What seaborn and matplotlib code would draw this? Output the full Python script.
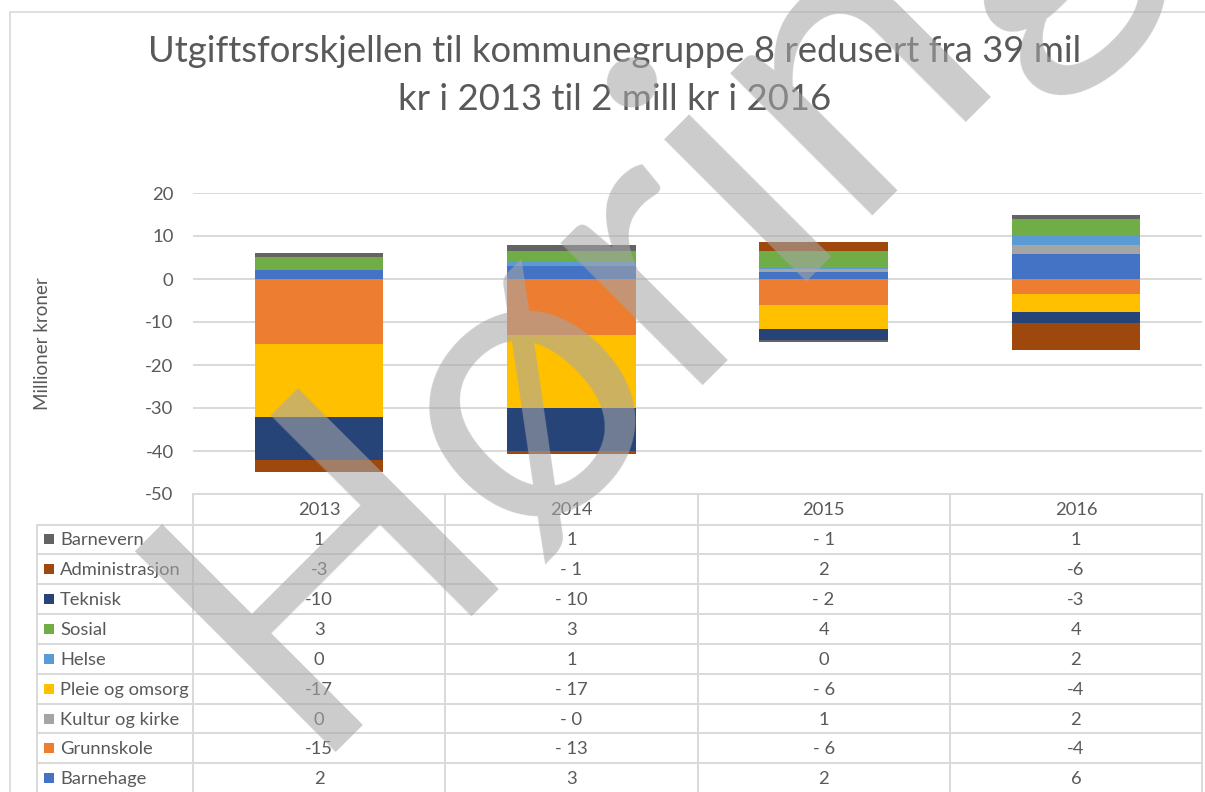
import numpy as np
import pandas as pd
import matplotlib
matplotlib.use("Agg")
import matplotlib.pyplot as plt
import seaborn as sns
from matplotlib.lines import Line2D
from matplotlib.patches import Rectangle

# ---------------- data ----------------
years = ["2013", "2014", "2015", "2016"]
series = ["Barnehage", "Grunnskole", "Kultur og kirke", "Pleie og omsorg",
          "Helse", "Sosial", "Teknisk", "Administrasjon", "Barnevern"]

barnehage = [2.0, 3.0, 1.6, 5.7]
grunnskole = [-15.1, -13.0, -6.0, -3.6]
kultur = [0.1, -0.1, 0.8, 2.1]
pleie = [-17.0, -17.0, -5.7, -4.0]
helse = [0.1, 1.1, 0.1, 2.1]
sosial = [2.9, 2.5, 3.9, 4.1]
teknisk = [-9.9, -10.0, -2.4, -2.6]
administrasjon = [-2.9, -0.5, 2.2, -6.4]
barnevern = [1.0, 1.4, -0.6, 1.0]

# values as displayed in the data table
tbl_barnehage = ["2", "3", "2", "6"]
tbl_grunnskole = ["-15", "- 13", "- 6", "-4"]
tbl_kultur = ["0", "- 0", "1", "2"]
tbl_pleie = ["-17", "- 17", "- 6", "-4"]
tbl_helse = ["0", "1", "0", "2"]
tbl_sosial = ["3", "3", "4", "4"]
tbl_teknisk = ["-10", "- 10", "- 2", "-3"]
tbl_administrasjon = ["-3", "- 1", "2", "-6"]
tbl_barnevern = ["1", "1", "- 1", "1"]

colors = ["#4472C4", "#ED7D31", "#A5A5A5", "#FFC000", "#5B9BD5",
          "#70AD47", "#264478", "#9E480E", "#636363"]

title_lines = ["Utgiftsforskjellen til kommunegruppe 8 redusert fra 39 mil",
               "kr i 2013 til 2 mill kr i 2016"]
ylabel = "Millioner kroner"
watermark = "Høring"

values = np.array([barnehage, grunnskole, kultur, pleie, helse, sosial,
                   teknisk, administrasjon, barnevern])
table_vals = [tbl_barnehage, tbl_grunnskole, tbl_kultur, tbl_pleie, tbl_helse,
              tbl_sosial, tbl_teknisk, tbl_administrasjon, tbl_barnevern]

# ---------------- style ----------------
sns.set_theme(style="white")
plt.rcParams["font.family"] = ["Lato", "DejaVu Sans"]
TXT = "#595959"
GRID = "#D9D9D9"

W, H = 1205, 792
fig = plt.figure(figsize=(W / 100, H / 100), dpi=100)
fig.patch.set_facecolor("white")

# layout (pixels)
ax_left, ax_right, ax_top, ax_bottom = 193, 1202, 193, 494
ax = fig.add_axes([ax_left / W, 1 - ax_bottom / H,
                   (ax_right - ax_left) / W, (ax_bottom - ax_top) / H])

pos_cum = np.where(values > 0, values, 0).cumsum(axis=0)
neg_cum = np.where(values < 0, values, 0).cumsum(axis=0)

for i in reversed(range(len(series))):
    dfp = pd.DataFrame({"year": years, "v": pos_cum[i]})
    dfn = pd.DataFrame({"year": years, "v": neg_cum[i]})
    for d in (dfp, dfn):
        sns.barplot(data=d, x="year", y="v", order=years, color=colors[i],
                    saturation=1, width=0.51, errorbar=None, linewidth=0,
                    edgecolor="none", ax=ax, zorder=2)

ax.set_xlim(-0.5, len(years) - 0.5)
ax.set_ylim(-50, 20)
ax.set_yticks(range(-50, 21, 10))
ax.set_yticklabels([str(v) for v in range(-50, 21, 10)], color=TXT, fontsize=13.3)
ax.tick_params(axis="y", length=0, pad=14)
ax.set_xticks([])
ax.set_xlabel("")
ax.set_ylabel("")
for s in ax.spines.values():
    s.set_visible(False)
ax.yaxis.grid(True, color=GRID, linewidth=1.4, zorder=0)
ax.set_axisbelow(True)
ax.set_facecolor("none")

# ---------------- overlay for table, frame ----------------
ov = fig.add_axes([0, 0, 1, 1], zorder=-1)
ov.set_xlim(0, W)
ov.set_ylim(H, 0)
ov.axis("off")

# outer chart frame
ov.add_line(Line2D([10, 10], [12, H], color=GRID, lw=1.2))
ov.add_line(Line2D([10, W], [12, 12], color=GRID, lw=1.2))

ncol = len(years)
colw = (ax_right - ax_left) / ncol
lab_left = 37
hdr_top, hdr_bot = ax_bottom, 524.5
row_h = 29.85
nrows = len(series)
row_tops = [hdr_bot + k * row_h for k in range(nrows + 1)]
FS_T = 13.2

ov.add_line(Line2D([ax_left, ax_right], [hdr_top, hdr_top], color=GRID, lw=1.4))
for y in row_tops:
    ov.add_line(Line2D([lab_left, ax_right], [y, y], color=GRID, lw=1.4))
for c in range(ncol + 1):
    x = ax_left + c * colw
    ov.add_line(Line2D([x, x], [hdr_top, H], color=GRID, lw=1.4))
ov.add_line(Line2D([lab_left, lab_left], [hdr_bot, H], color=GRID, lw=1.4))

for c, yr in enumerate(years):
    ov.text(ax_left + (c + 0.5) * colw, (hdr_top + hdr_bot) / 2 + 1, yr,
            ha="center", va="center", fontsize=FS_T, color=TXT)

for r, si in enumerate(reversed(range(nrows))):
    yc = hdr_bot + (r + 0.5) * row_h
    ov.add_patch(Rectangle((44, yc - 5), 10, 10, color=colors[si], lw=0))
    ov.text(60, yc + 1, series[si], ha="left", va="center", fontsize=FS_T, color=TXT)
    for c in range(ncol):
        ov.text(ax_left + (c + 0.5) * colw, yc + 1, table_vals[si][c],
                ha="center", va="center", fontsize=FS_T, color=TXT)

# y label
fig.text(42 / W, 1 - 344 / H, ylabel, rotation=90, ha="center", va="center",
         fontsize=13.5, color=TXT)

# title fitted to width
renderer = fig.canvas.get_renderer()
t1 = fig.text(615 / W, 1 - 52 / H, title_lines[0], ha="center", va="center",
              fontsize=24, color=TXT)
w1 = t1.get_window_extent(renderer).width
fs = 24 * 934 / w1
t1.set_fontsize(fs)
fig.text(615 / W, 1 - 100 / H, title_lines[1], ha="center", va="center",
         fontsize=fs, color=TXT)

# watermark
fig.text(300 / W, 1 - 752 / H, watermark, rotation=45, rotation_mode="anchor",
         ha="left", va="baseline", fontsize=286, color="#A7A7A7", alpha=0.58,
         zorder=10)

fig.savefig("out.png", dpi=100, facecolor="white")
